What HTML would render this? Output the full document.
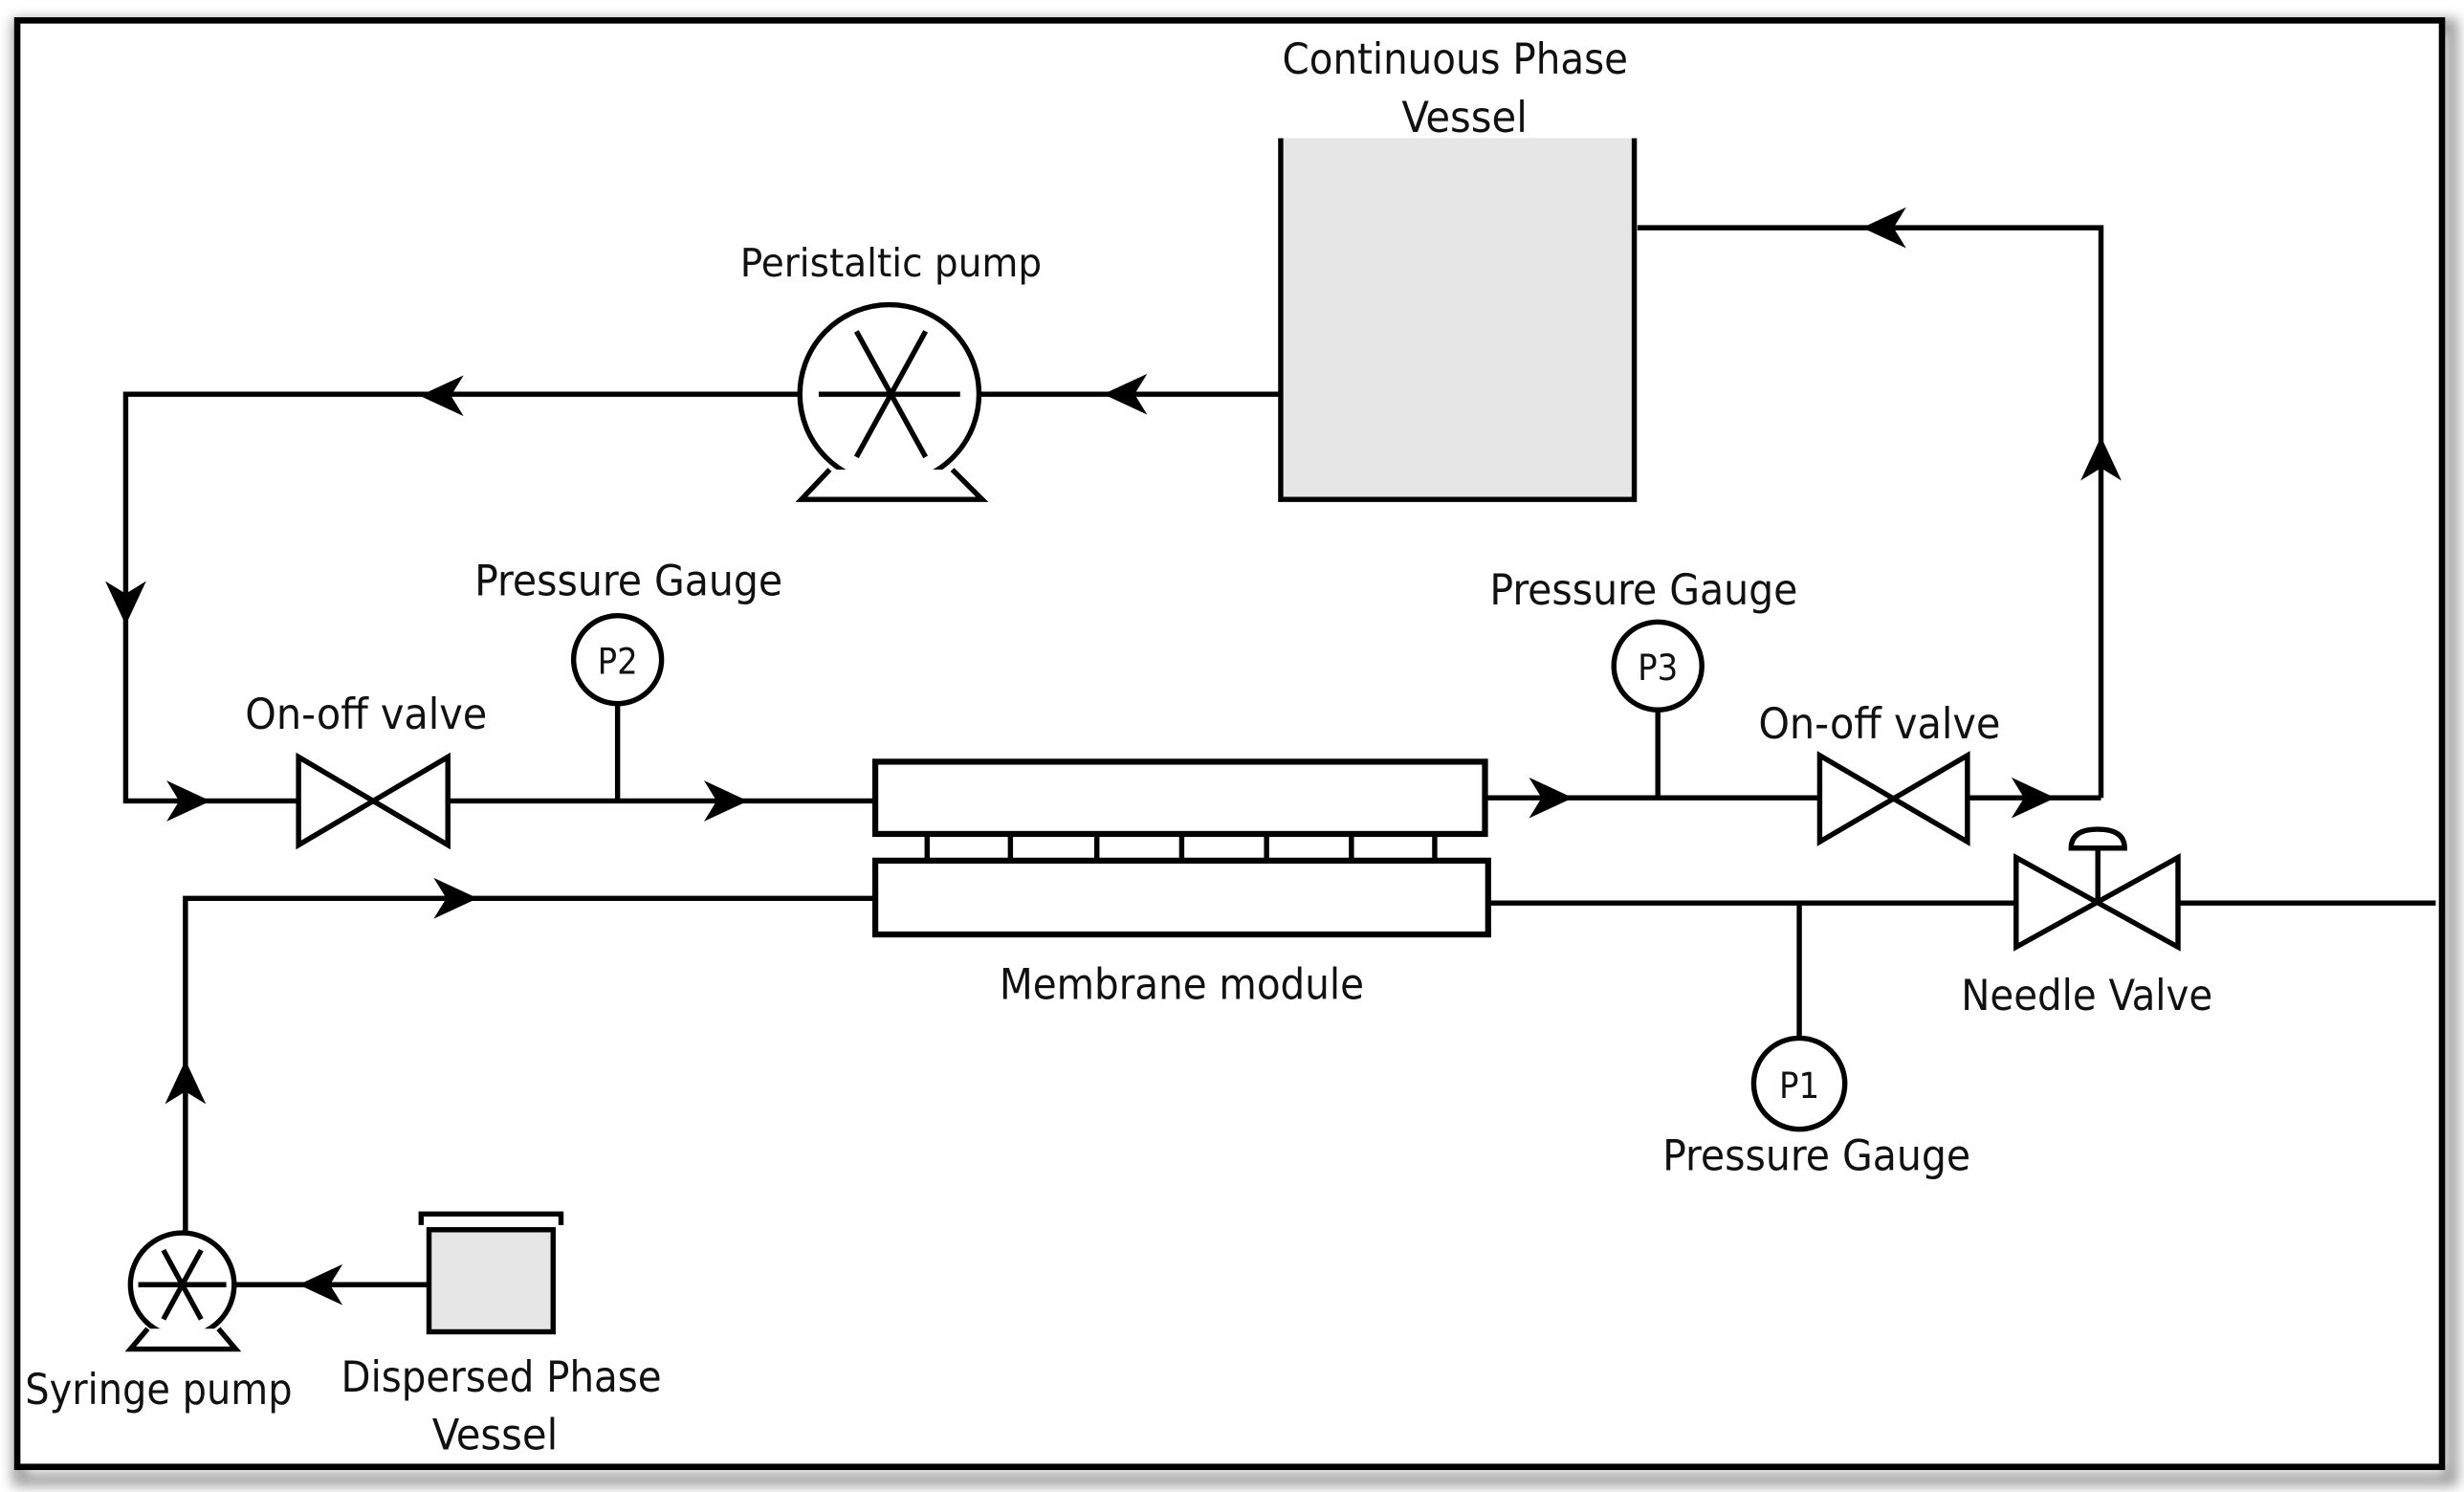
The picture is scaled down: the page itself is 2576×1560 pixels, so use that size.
<!DOCTYPE html>
<html><head><meta charset="utf-8"><style>
html,body{margin:0;padding:0;background:#fff;}
svg{display:block;}
text{font-family:"DejaVu Sans Condensed","DejaVu Sans","Liberation Sans",sans-serif;font-size:27px;fill:#111;}
</style></head><body>
<svg width="2576" height="1560" viewBox="0 0 1568 950" preserveAspectRatio="none" xmlns="http://www.w3.org/2000/svg">
<defs>
<filter id="sh" x="-5%" y="-5%" width="110%" height="110%"><feGaussianBlur stdDeviation="4"/></filter>
</defs>
<rect x="0" y="0" width="1568" height="950" fill="#fff"/>
<rect x="12" y="16" width="1548" height="926" fill="none" stroke="#999" stroke-width="8" filter="url(#sh)"/>
<rect x="11" y="13" width="1543" height="921" fill="#fff" stroke="#000" stroke-width="4"/>

<g stroke="#000" stroke-width="3.3" fill="none">
<path d="M815 88 V318 H1040 V88" fill="#e6e6e6"/>
<path d="M1042 145 H1337 V508"/>
<path d="M815 251 H623"/>
<path d="M509 251 H80 V510 H190"/>
<circle cx="566" cy="251" r="57" fill="#fff"/>
<path d="M521 251 H611 M545 211 L589 291 M589 211 L545 291"/>
<path d="M528 299 L510 318 H625 L606 299" fill="#fff"/>
<path d="M190 482 L285 538 V482 L190 538 Z" fill="#fff"/>
<path d="M285 510 H557"/>
<line x1="393" y1="448" x2="393" y2="510"/>
<circle cx="393" cy="420" r="28" fill="#fff"/>
<rect x="557" y="485" width="388" height="46" fill="#fff" stroke-width="3.8"/>
<rect x="557" y="548" width="390" height="47" fill="#fff" stroke-width="3.8"/>
<path d="M590 531 V548 M913 531 V548 M643 531 V548 M698 531 V548 M752 531 V548 M806 531 V548 M860 531 V548"/>
<path d="M945 508 H1158 M1252 508 H1337"/>
<line x1="1055" y1="452" x2="1055" y2="508"/>
<circle cx="1055" cy="424" r="28" fill="#fff"/>
<path d="M1158 481 L1252 536 V481 L1158 536 Z" fill="#fff"/>
<path d="M118 785 V572 H557"/>
<path d="M947 575 H1283 M1386 575 H1550"/>
<line x1="1145" y1="575" x2="1145" y2="662"/>
<circle cx="1145" cy="690" r="29" fill="#fff"/>
<path d="M1283 546 L1386 603 V546 L1283 603 Z" fill="#fff"/>
<line x1="1335" y1="575" x2="1335" y2="540"/>
<path d="M1318 540 Q1318 528 1335 528 Q1352 528 1352 540 Z" fill="#fff"/>
<path d="M150 818 H273"/>
<circle cx="116" cy="818" r="33" fill="#fff"/>
<path d="M88 818 H144 M104 796 L128 840 M128 796 L104 840"/>
<path d="M94 846 L83 859 H150 L139 846" fill="#fff"/>
<rect x="273" y="783" width="79" height="65" fill="#e6e6e6"/>
<path d="M268 780 V773 H357 V780"/>
</g>

<g fill="#000">
<path d="M1185 145 L1213 132 L1205 145 L1213 158 Z"/>
<path d="M1337 278 L1324 306 L1337 298 L1350 306 Z"/>
<path d="M702 251 L730 238 L722 251 L730 264 Z"/>
<path d="M267 252 L295 239 L287 252 L295 265 Z"/>
<path d="M80 398 L67 370 L80 378 L93 370 Z"/>
<path d="M134 510 L106 497 L114 510 L106 523 Z"/>
<path d="M476 510 L448 497 L456 510 L448 523 Z"/>
<path d="M1001 508 L973 495 L981 508 L973 521 Z"/>
<path d="M1308 508 L1280 495 L1288 508 L1280 521 Z"/>
<path d="M304 572 L276 559 L284 572 L276 585 Z"/>
<path d="M118 675 L105 703 L118 695 L131 703 Z"/>
<path d="M190 818 L218 805 L210 818 L218 831 Z"/>
</g>

<text x="926" y="47" text-anchor="middle" textLength="220" lengthAdjust="spacingAndGlyphs">Continuous Phase</text>
<text x="932" y="84" text-anchor="middle" textLength="80" lengthAdjust="spacingAndGlyphs">Vessel</text>
<text x="567" y="176" text-anchor="middle" textLength="192" lengthAdjust="spacingAndGlyphs" style="font-size:25px">Peristaltic pump</text>
<text x="400" y="379" text-anchor="middle" textLength="196" lengthAdjust="spacingAndGlyphs">Pressure Gauge</text>
<text x="1046" y="385" text-anchor="middle" textLength="196" lengthAdjust="spacingAndGlyphs">Pressure Gauge</text>
<text x="1156" y="745" text-anchor="middle" textLength="196" lengthAdjust="spacingAndGlyphs">Pressure Gauge</text>
<text x="233" y="464" text-anchor="middle" textLength="154" lengthAdjust="spacingAndGlyphs">On-off valve</text>
<text x="1196" y="470" text-anchor="middle" textLength="154" lengthAdjust="spacingAndGlyphs">On-off valve</text>
<text x="752" y="636" text-anchor="middle" textLength="232" lengthAdjust="spacingAndGlyphs">Membrane module</text>
<text x="1328" y="643" text-anchor="middle" textLength="160" lengthAdjust="spacingAndGlyphs">Needle Valve</text>
<text x="101" y="894" text-anchor="middle" textLength="170" lengthAdjust="spacingAndGlyphs">Syringe pump</text>
<text x="319" y="886" text-anchor="middle" textLength="204" lengthAdjust="spacingAndGlyphs">Dispersed Phase</text>
<text x="315" y="923" text-anchor="middle" textLength="80" lengthAdjust="spacingAndGlyphs">Vessel</text>
<text x="393" y="429" text-anchor="middle" style="font-size:23px">P2</text>
<text x="1055" y="433" text-anchor="middle" style="font-size:23px">P3</text>
<text x="1145" y="699" text-anchor="middle" style="font-size:23px">P1</text>
</svg>
</body></html>
